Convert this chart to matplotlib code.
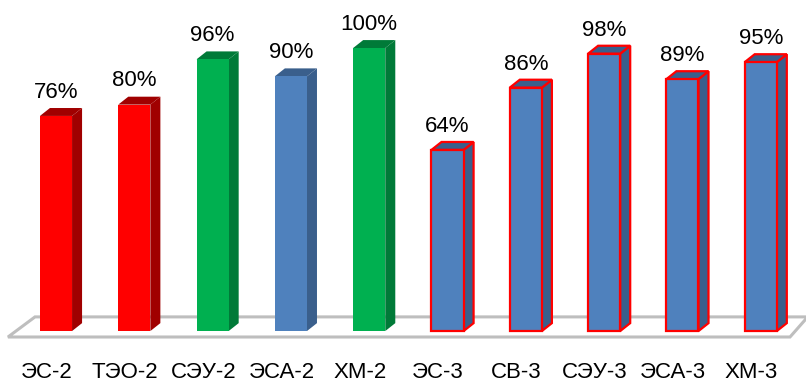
import numpy as np
import matplotlib.pyplot as plt
from matplotlib.patches import Polygon

categories = ["ЭС-2", "ТЭО-2", "СЭУ-2", "ЭСА-2", "ХМ-2",
              "ЭС-3", "СВ-3", "СЭУ-3", "ЭСА-3", "ХМ-3"]
values = [76, 80, 96, 90, 100, 64, 86, 98, 89, 95]
groups = ["red", "red", "green", "blue", "green",
          "blue", "blue", "blue", "blue", "blue"]
outlined = [False] * 5 + [True] * 5

front = {"red": "#FF0000", "green": "#00B050", "blue": "#4F81BD"}
dark = {"red": "#A00000", "green": "#007A38", "blue": "#3A5F8C"}

plt.rcParams['font.family'] = ['Liberation Sans', 'DejaVu Sans']

fig = plt.figure(figsize=(8.06, 3.82), dpi=100)
ax = fig.add_axes([0, 0, 1, 1])
ax.set_xlim(-0.715, 9.578)
ax.set_ylim(-18.0, 116.96)
ax.axis('off')

# floor of the 3d plot
floor = Polygon([(-0.613, -2.1), (9.374, -2.1), (9.6, 5.0), (-0.268, 5.0)],
                closed=True, facecolor='white', edgecolor='#BEBEBE',
                linewidth=2.2, zorder=1)
ax.add_patch(floor)

w = 0.41
ddx, ddy = 0.128, 2.8
x = np.arange(len(values))

for i, v in enumerate(values):
    g = groups[i]
    ec = '#FF0000' if outlined[i] else 'none'
    lw = 1.6 if outlined[i] else 0
    l, r = i - w / 2, i + w / 2
    side = Polygon([(r, 0), (r + ddx, ddy), (r + ddx, v + ddy), (r, v)],
                   closed=True, facecolor=dark[g], edgecolor=ec, linewidth=lw, zorder=2)
    top = Polygon([(l, v), (r, v), (r + ddx, v + ddy), (l + ddx, v + ddy)],
                  closed=True, facecolor=dark[g], edgecolor=ec, linewidth=lw, zorder=2)
    ax.add_patch(side)
    ax.add_patch(top)

ax.bar(x, values, width=w, color=[front[g] for g in groups],
       edgecolor=['#FF0000' if o else 'none' for o in outlined],
       linewidth=[1.6 if o else 0 for o in outlined], zorder=3)

for i, v in enumerate(values):
    ax.text(i, v + ddy + 3.6, f"{v}%", ha='center', va='baseline', fontsize=16, color='black')
    ax.text(i - 0.12, -16.6, categories[i], ha='center', va='baseline', fontsize=16, color='black')

plt.savefig('out.png', dpi=100)
